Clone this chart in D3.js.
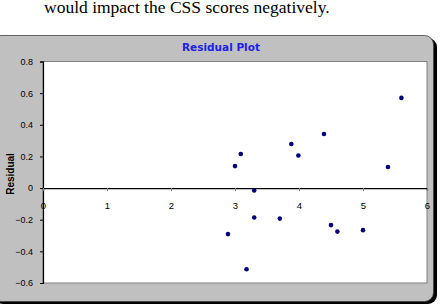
<!DOCTYPE html>
<html>
<head>
<meta charset="utf-8">
<script src="https://cdn.jsdelivr.net/npm/d3@7"></script>
<style>
  body { margin: 0; background: #fff; }
  svg { display: block; }
</style>
</head>
<body>
<svg id="chart" width="445" height="305"></svg>
<script>
// residual data
var xVals = [3.09, 3.0, 3.88, 3.99, 5.6, 4.39, 5.39, 3.30, 3.30, 3.70, 2.89, 3.18, 4.50, 4.60, 5.0];
var residuals = [0.215, 0.139, 0.279, 0.206, 0.57, 0.342, 0.133, -0.015, -0.186, -0.193, -0.291, -0.513, -0.234, -0.275, -0.266];
var xTicks = [0, 1, 2, 3, 4, 5, 6];
var yTicks = [-0.6, -0.4, -0.2, 0, 0.2, 0.4, 0.6, 0.8];

var svg = d3.select('#chart');

// caption text from the page above the chart
svg.append('text')
	.attr('x', 44)
	.attr('y', 13)
	.attr('font-family', 'Liberation Serif, serif')
	.attr('font-size', 17.5)
	.attr('fill', '#000')
	.text('would impact the CSS scores negatively.');

// chart panel with shadow
svg.append('rect')
	.attr('x', -6).attr('y', 38)
	.attr('width', 443).attr('height', 266)
	.attr('rx', 9)
	.attr('fill', '#000');
svg.append('rect')
	.attr('x', -8).attr('y', 35.5)
	.attr('width', 441.5).attr('height', 266)
	.attr('rx', 9)
	.attr('fill', '#c0c0c0')
	.attr('stroke', '#404040')
	.attr('stroke-width', 0.8);

var x = d3.scaleLinear().domain([0, 6]).range([43, 427]);
var y = d3.scaleLinear().domain([-0.6, 0.8]).range([283, 61.5]);

// plot area
svg.append('rect')
	.attr('x', x(0)).attr('y', y(0.8))
	.attr('width', x(6) - x(0)).attr('height', y(-0.6) - y(0.8))
	.attr('fill', '#fff')
	.attr('stroke', '#808080')
	.attr('stroke-width', 1);

svg.append('text')
	.attr('x', 221)
	.attr('y', 51)
	.attr('text-anchor', 'middle')
	.attr('font-family', 'DejaVu Sans, sans-serif')
	.attr('font-weight', 'bold')
	.attr('font-size', 10.5)
	.attr('fill', '#2020e6')
	.text('Residual Plot');

// y axis
var yAxis = d3.axisLeft(y)
	.tickValues(yTicks)
	.tickSize(3)
	.tickPadding(7)
	.tickFormat(function(d) { return d === 0 ? '0' : d3.format('.1f')(d); });

var gy = svg.append('g')
	.attr('transform', 'translate(' + x(0) + ',0)')
	.call(yAxis);
gy.select('.domain').attr('stroke', '#000').attr('stroke-width', 1.2);
gy.selectAll('.tick line').attr('stroke', '#000');
gy.selectAll('text')
	.attr('font-family', 'Liberation Sans, Arial, sans-serif')
	.attr('font-size', 9)
	.attr('fill', '#000');

// x axis along zero
var xAxis = d3.axisBottom(x)
	.tickValues(xTicks)
	.tickSize(3)
	.tickPadding(11)
	.tickFormat(d3.format('d'));

var gx = svg.append('g')
	.attr('transform', 'translate(0,' + y(0) + ')')
	.call(xAxis);
gx.select('.domain').attr('stroke', '#000').attr('stroke-width', 1.2);
gx.selectAll('.tick line').attr('stroke', '#808080');
gx.selectAll('text')
	.attr('font-family', 'Liberation Sans, Arial, sans-serif')
	.attr('font-size', 9.5)
	.attr('fill', '#000');

svg.append('text')
	.attr('transform', 'translate(14,174) rotate(-90)')
	.attr('text-anchor', 'middle')
	.attr('font-family', 'Liberation Sans, Arial, sans-serif')
	.attr('font-weight', 'bold')
	.attr('font-size', 10)
	.attr('fill', '#000')
	.text('Residual');

// points
svg.append('g')
	.selectAll('circle')
	.data(xVals)
	.enter()
	.append('circle')
	.attr('cx', function(d) { return x(d); })
	.attr('cy', function(d, i) { return y(residuals[i]); })
	.attr('r', 2.3)
	.attr('fill', '#000080');
</script>
</body>
</html>
